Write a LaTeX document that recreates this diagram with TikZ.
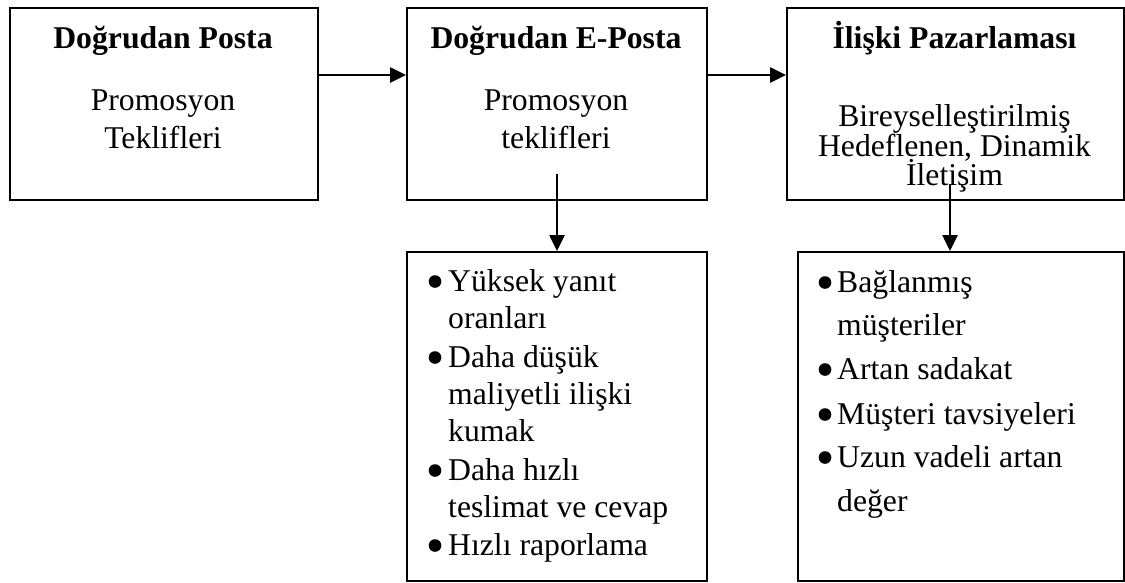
\documentclass[tikz,border=0pt]{standalone}
\usepackage{fontspec}
\setmainfont{Liberation Serif}
\usetikzlibrary{arrows.meta}
\begin{document}
\begin{tikzpicture}[x=1pt,y=1pt,
  box/.style={draw, line width=2pt, rectangle, inner sep=0pt, anchor=north west},
  arr/.style={line width=2.6pt, -{Triangle[length=16pt,width=15pt]}},
  txt/.style={inner sep=0pt, anchor=base, font=\fontsize{31.7}{38}\selectfont},
  ltxt/.style={txt, anchor=base west},
  ttl/.style={txt, font=\fontsize{31.7}{38}\selectfont\bfseries}]
\useasboundingbox (0,0) rectangle (1125,-582);

% top row of boxes
\node[box, minimum width=308pt, minimum height=192pt] (b1) at (9,-7) {};
\node[box, minimum width=300pt, minimum height=192pt] (b2) at (406,-7) {};
\node[box, minimum width=337pt, minimum height=192pt] (b3) at (786,-7) {};
% bottom row of boxes
\node[box, minimum width=300pt, minimum height=329pt] (b4) at (406,-251) {};
\node[box, minimum width=326pt, minimum height=329pt] (b5) at (797,-251) {};

% texts of the top boxes
\node[ttl] (t1) at (163,-48) {Doğrudan Posta};
\node[txt] (t1a) at (163,-110) {Promosyon};
\node[txt] (t1b) at (163,-148) {Teklifleri};

\node[ttl] (t2) at (556,-48) {Doğrudan E-Posta};
\node[txt] (t2a) at (556,-110) {Promosyon};
\node[txt] (t2b) at (556,-148) {teklifleri};

\node[ttl] (t3) at (954.5,-48) {İlişki Pazarlaması};
\node[txt] (t3a) at (954.5,-126) {Bireyselleştirilmiş};
\node[txt] (t3b) at (954.5,-156) {Hedeflenen, Dinamik};
\node[txt] (t3c) at (954.5,-185) {İletişim};

% bullet list under Doğrudan E-Posta
\foreach \y in {291,367,480,555} \fill (435,-\y+9.5) circle (6.3);
\node[ltxt] (l1) at (448,-291) {Yüksek yanıt};
\node[ltxt] (l2) at (448,-328) {oranları};
\node[ltxt] (l3) at (448,-367) {Daha düşük};
\node[ltxt] (l4) at (448,-404) {maliyetli ilişki};
\node[ltxt] (l5) at (448,-441) {kumak};
\node[ltxt] (l6) at (448,-480) {Daha hızlı};
\node[ltxt] (l7) at (448,-517) {teslimat ve cevap};
\node[ltxt] (l8) at (448,-555) {Hızlı raporlama};

% bullet list under İlişki Pazarlaması
\foreach \y in {292,379,424,467} \fill (825,-\y+9.5) circle (6.3);
\node[ltxt] (r1) at (837,-292) {Bağlanmış};
\node[ltxt] (r2) at (837,-335) {müşteriler};
\node[ltxt] (r3) at (837,-379) {Artan sadakat};
\node[ltxt] (r4) at (837,-424) {Müşteri tavsiyeleri};
\node[ltxt] (r5) at (837,-467) {Uzun vadeli artan};
\node[ltxt] (r6) at (837,-511) {değer};

% connectors
\draw[arr] ([yshift=29pt]b1.east) -- ([yshift=29pt]b2.west);
\draw[arr] ([yshift=29pt]b2.east) -- ([yshift=29pt]b3.west);
\draw[arr] ([yshift=27pt]b2.south) -- (b4.north);
\draw[arr] ([xshift=-5.5pt,yshift=17pt]b3.south) coordinate (s3) -- (s3 |- b5.north);
\end{tikzpicture}
\end{document}
